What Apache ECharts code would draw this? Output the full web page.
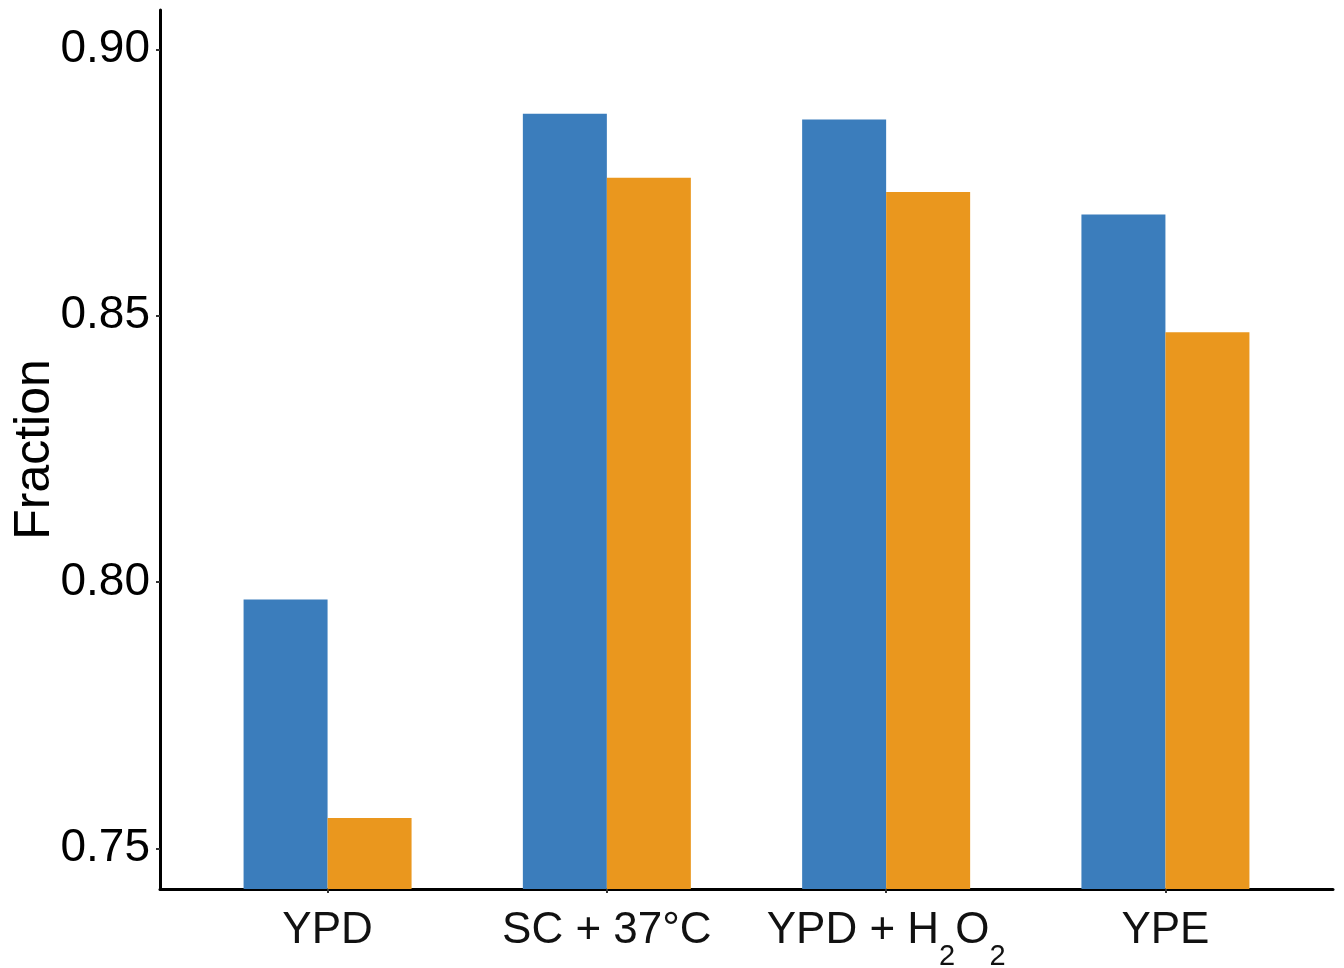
<!DOCTYPE html>
<html>
<head>
<meta charset="utf-8">
<script src="https://cdn.jsdelivr.net/npm/echarts@6/dist/echarts.min.js"></script>
<style>
  html, body { margin: 0; padding: 0; background: #ffffff; }
  #chart { width: 1344px; height: 968px; }
</style>
</head>
<body>
<div id="chart"></div>
<script>
// Growth conditions along the x axis (subscript digits become rich-text subscripts)
const categories = ['YPD', 'SC + 37°C', 'YPD + H₂O₂', 'YPE'];
// Fraction per condition, two groups
const blueValues = [0.7967, 0.8879, 0.8868, 0.8690];
const orangeValues = [0.7557, 0.8759, 0.8732, 0.8469];
// Y tick labels
const yTicks = [0.75, 0.80, 0.85, 0.90];
const yTitle = 'Fraction';

const FONT = '"Liberation Sans", Arial, Helvetica, sans-serif';
const SUB = { '₀': '0', '₁': '1', '₂': '2', '₃': '3', '₄': '4', '₅': '5', '₆': '6', '₇': '7', '₈': '8', '₉': '9' };

// Turn "H₂O₂" into rich-text fragments with lowered small digits
function richLabel(text) {
  let out = '';
  let buf = '';
  for (const ch of text) {
    if (SUB[ch] !== undefined) {
      if (buf) { out += '{m|' + buf + '}'; buf = ''; }
      out += '{s|' + SUB[ch] + '}';
    } else {
      buf += ch;
    }
  }
  if (buf) out += '{m|' + buf + '}';
  return out;
}

const positions = categories.map((_, i) => i + 1);
const toPairs = vals => vals.map((v, i) => [positions[i], v]);

const chart = echarts.init(document.getElementById('chart'), null, { renderer: 'canvas' });

chart.setOption({
  animation: false,
  backgroundColor: '#ffffff',
  grid: { left: 160, right: 11, top: 10, bottom: 79, containLabel: false, outerBoundsMode: 'none' },
  xAxis: {
    type: 'value',
    min: 0.4,
    max: 4.6,
    splitLine: { show: false },
    axisLine: { show: true, lineStyle: { color: '#000', width: 3 } },
    axisTick: { show: true, customValues: positions, length: 4, lineStyle: { color: '#333', width: 2 } },
    axisLabel: {
      show: true,
      customValues: positions,
      margin: 2,
      formatter: v => richLabel(categories[Math.round(v) - 1] || ''),
      rich: {
        m: { fontFamily: FONT, fontSize: 44, color: '#111', lineHeight: 80 },
        s: { fontFamily: FONT, fontSize: 29, color: '#111', lineHeight: 29, verticalAlign: 'bottom' }
      }
    }
  },
  yAxis: {
    type: 'value',
    min: 0.74236,
    max: 0.90738,
    name: yTitle,
    nameLocation: 'middle',
    nameRotate: 90,
    nameGap: 100,
    nameMoveOverlap: false,
    nameTextStyle: { fontFamily: FONT, fontSize: 50, color: '#000' },
    splitLine: { show: false },
    axisLine: { show: true, lineStyle: { color: '#000', width: 3 } },
    axisTick: { show: true, customValues: yTicks, length: 4, lineStyle: { color: '#333', width: 2 } },
    axisLabel: {
      show: true,
      customValues: yTicks,
      margin: 10,
      fontFamily: FONT,
      fontSize: 46,
      color: '#000',
      formatter: v => v.toFixed(2)
    }
  },
  series: [
    {
      name: 'Group A',
      type: 'bar',
      barWidth: 84,
      barGap: '0%',
      itemStyle: { color: '#3B7DBC' },
      data: toPairs(blueValues)
    },
    {
      name: 'Group B',
      type: 'bar',
      barWidth: 84,
      barGap: '0%',
      itemStyle: { color: '#EA971E' },
      data: toPairs(orangeValues)
    }
  ]
});
</script>
</body>
</html>
